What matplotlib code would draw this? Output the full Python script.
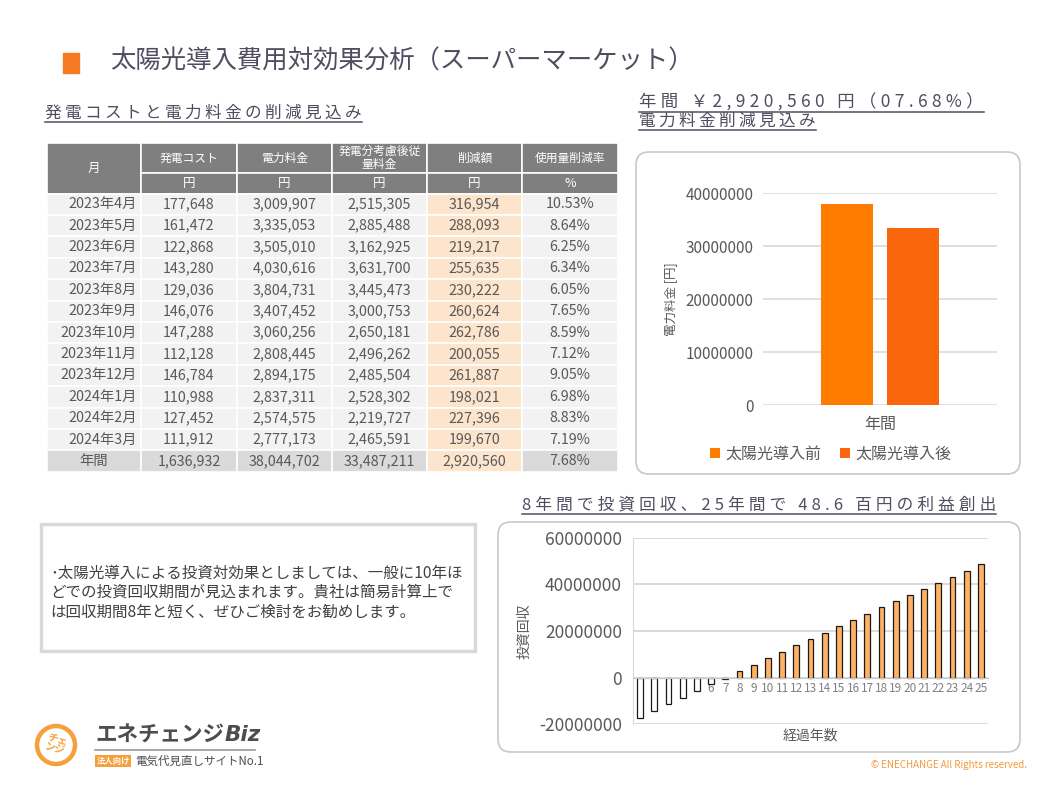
"""Solar installation cost-effectiveness slide (supermarket)."""

import matplotlib

matplotlib.use("Agg")
import matplotlib.pyplot as plt
import numpy as np
from matplotlib.patches import Circle, FancyBboxPatch, Rectangle

FAM = ["Noto Sans CJK JP", "DejaVu Sans"]
plt.rcParams["font.family"] = FAM

W, H = 1058, 794

# ---- data -------------------------------------------------------------
months = ["2023年4月", "2023年5月", "2023年6月", "2023年7月", "2023年8月", "2023年9月",
          "2023年10月", "2023年11月", "2023年12月", "2024年1月", "2024年2月", "2024年3月"]
gen_cost = [177648, 161472, 122868, 143280, 129036, 146076, 147288, 112128, 146784, 110988, 127452, 111912]
elec_fee = [3009907, 3335053, 3505010, 4030616, 3804731, 3407452, 3060256, 2808445, 2894175, 2837311, 2574575, 2777173]
after_fee = [2515305, 2885488, 3162925, 3631700, 3445473, 3000753, 2650181, 2496262, 2485504, 2528302, 2219727, 2465591]
reduction = [316954, 288093, 219217, 255635, 230222, 260624, 262786, 200055, 261887, 198021, 227396, 199670]
cut_rate = [10.53, 8.64, 6.25, 6.34, 6.05, 7.65, 8.59, 7.12, 9.05, 6.98, 8.83, 7.19]
total_label = "年間"
total_row = [1636932, 38044702, 33487211, 2920560]
total_rate = 7.68

col_titles = ["発電コスト", "電力料金", "発電分考慮後従\n量料金", "削減額", "使用量削減率"]
col_units = ["円", "円", "円", "円", "%"]

annual_cat = ["年間"]
annual_before = [38044702]
annual_after = [33487211]

years = list(range(1, 26))
payback = [-17.4e6, -14.3e6, -11.3e6, -8.9e6, -5.7e6, -2.7e6, -0.7e6, 3.0e6, 5.6e6, 8.6e6,
           11.1e6, 14.1e6, 16.7e6, 19.3e6, 22.3e6, 24.9e6, 27.4e6, 30.4e6, 33.0e6, 35.6e6,
           38.1e6, 40.7e6, 43.3e6, 45.9e6, 48.6e6]

note_lines = ["･太陽光導入による投資対効果としましては、一般に10年ほ",
              "どでの投資回収期間が見込まれます。貴社は簡易計算上で",
              "は回収期間8年と短く、ぜひご検討をお勧めします。"]

# ---- colours ----------------------------------------------------------
HEAD = "#4E4E60"
TXT = "#595959"
ORANGE = "#F5A03A"

fig = plt.figure(figsize=(W / 100, H / 100), dpi=100)
bg = fig.add_axes([0, 0, 1, 1])
bg.set_xlim(0, W)
bg.set_ylim(H, 0)
bg.axis("off")
renderer = fig.canvas.get_renderer()


def heading(x, y, text, size, sep="\u2009"):
    t = bg.text(x, y, sep.join(text), fontsize=size, color=HEAD, va="center", ha="left")
    bb = t.get_window_extent(renderer=renderer)
    bg.plot([bb.x0, bb.x1], [y + 9, y + 9], color=HEAD, lw=1.1)


# ---- title ------------------------------------------------------------
bg.add_patch(Rectangle((63, 53), 16, 20, color="#F57A22"))
bg.text(110, 62, "太陽光導入費用対効果分析（スーパーマーケット）", fontsize=18.3, color=HEAD, va="center")

heading(45, 113, "発電コストと電力料金の削減見込み", 12)
heading(639, 103, "年間 ￥2,920,560 円（07.68%）", 12.5, sep="\u2005")
heading(639, 121, "電力料金削減見込み", 12)
heading(522, 505, "8年間で投資回収、25年間で 48.6 百円の利益創出", 12, sep="\u2005")

# ---- table ------------------------------------------------------------
col_edges = [47, 141, 237, 332, 427, 522, 618]
hdr_top, hdr_mid, body_top, row_h = 143, 173, 193.5, 21.4
GRAY_HDR, ROW_BG, TOTAL_BG, PEACH = "#7F7F7F", "#F2F2F2", "#DADADA", "#FDE4CC"

bg.add_patch(Rectangle((col_edges[0], hdr_top), col_edges[1] - col_edges[0], body_top - hdr_top,
                       facecolor=GRAY_HDR, edgecolor="white", lw=1.2))
bg.text((col_edges[0] + col_edges[1]) / 2, (hdr_top + body_top) / 2, "月", color="white",
        fontsize=9, ha="center", va="center")
for c in range(5):
    x0, x1 = col_edges[c + 1], col_edges[c + 2]
    bg.add_patch(Rectangle((x0, hdr_top), x1 - x0, hdr_mid - hdr_top, facecolor=GRAY_HDR,
                           edgecolor="white", lw=1.2))
    bg.add_patch(Rectangle((x0, hdr_mid), x1 - x0, body_top - hdr_mid, facecolor=GRAY_HDR,
                           edgecolor="white", lw=1.2))
    bg.text((x0 + x1) / 2, (hdr_top + hdr_mid) / 2, col_titles[c], color="white", fontsize=8.5,
            ha="center", va="center", linespacing=0.95)
    bg.text((x0 + x1) / 2, (hdr_mid + body_top) / 2, col_units[c], color="white", fontsize=9,
            ha="center", va="center")

rows = []
for i in range(len(months)):
    rows.append([months[i], f"{gen_cost[i]:,}", f"{elec_fee[i]:,}", f"{after_fee[i]:,}",
                 f"{reduction[i]:,}", f"{cut_rate[i]:.2f}%"])
rows.append([total_label] + [f"{v:,}" for v in total_row] + [f"{total_rate:.2f}%"])

for r, cells in enumerate(rows):
    top = body_top + r * row_h
    is_total = r == len(rows) - 1
    for c, val in enumerate(cells):
        x0, x1 = col_edges[c], col_edges[c + 1]
        face = PEACH if c == 4 else (TOTAL_BG if is_total else ROW_BG)
        bg.add_patch(Rectangle((x0, top), x1 - x0, row_h, facecolor=face, edgecolor="white", lw=1.2))
        if c == 0 and not is_total:
            bg.text(x1 - 4, top + row_h / 2, val, color=TXT, fontsize=10.3, ha="right", va="center")
        else:
            bg.text((x0 + x1) / 2, top + row_h / 2, val, color=TXT, fontsize=10.3, ha="center", va="center")

# ---- chart boxes --------------------------------------------------------
for (x0, y0, x1, y1) in [(636, 152, 1020, 474), (498, 522, 1020, 752)]:
    bg.add_patch(FancyBboxPatch((x0, y0), x1 - x0, y1 - y0, boxstyle="round,pad=0,rounding_size=13",
                                facecolor="white", edgecolor="#C8C8C8", lw=1.2))

# ---- annual bar chart --------------------------------------------------
ax1 = fig.add_axes([763 / W, 1 - 405 / H, 234 / W, (405 - 193.5) / H])
ax1.set_facecolor("none")
xpos = np.arange(len(annual_cat))
bw, off = 0.222, 0.141
ax1.bar(xpos - off, annual_before, bw, color="#FF7C00", label="太陽光導入前", zorder=3)
ax1.bar(xpos + off, annual_after, bw, color="#FA660C", label="太陽光導入後", zorder=3)
ax1.set_xlim(-0.5, 0.5)
ax1.set_ylim(0, 40000000)
yt = np.arange(0, 40000001, 10000000)
ax1.set_yticks(yt, labels=[f"{v:.0f}" for v in yt])
ax1.set_xticks(xpos, labels=annual_cat)
ax1.yaxis.grid(True, color="#D9D9D9", lw=1.2)
ax1.set_axisbelow(True)
for s in ax1.spines.values():
    s.set_visible(False)
ax1.tick_params(axis="y", length=0, pad=7, labelsize=11, labelcolor=TXT)
ax1.tick_params(axis="x", length=0, pad=8, labelsize=11.5, labelcolor=TXT)
ax1.set_ylabel("電力料金 [円]", fontsize=9, color=TXT)
ax1.yaxis.set_label_coords(-0.365, 0.5)
ax1.legend(loc="center", bbox_to_anchor=(0.29, -0.232), ncol=2, frameon=False, fontsize=11.5,
           handlelength=0.6, handleheight=0.6, handletextpad=0.35, columnspacing=1.2,
           labelcolor=TXT)

# ---- payback chart ------------------------------------------------------
ax2 = fig.add_axes([633 / W, 1 - 724.3 / H, 355 / W, 186.6 / H])
ax2.set_facecolor("none")
bar_colors = ["white" if v < 0 else "#FFB264" for v in payback]
ax2.bar(years, payback, width=0.42, color=bar_colors, edgecolor="#1A1A1A", linewidth=0.9, zorder=2)
ax2.set_xlim(0.5, 25.5)
ax2.set_ylim(-20000000, 60000000)
yt2 = np.arange(-20000000, 60000001, 20000000)
ax2.set_yticks(yt2, labels=[f"{v:.0f}" for v in yt2])
ax2.set_xticks(years, labels=[str(y) for y in years])
ax2.yaxis.grid(True, color="#D9D9D9", lw=1.4)
ax2.set_axisbelow(True)
ax2.spines["bottom"].set_position(("data", 0))
ax2.spines["bottom"].set_color("#C8C8C8")
ax2.spines["left"].set_color("#D9D9D9")
ax2.spines["top"].set_visible(False)
ax2.spines["right"].set_visible(False)
ax2.tick_params(axis="y", length=0, pad=8, labelsize=12.5, labelcolor=TXT)
ax2.tick_params(axis="x", length=0, pad=3, labelsize=8.5, labelcolor="#808080")
ax2.set_ylabel("投資回収", fontsize=10, color=TXT)
ax2.yaxis.set_label_coords(-0.285, 0.5)
ax2.set_xlabel("経過年数", fontsize=10, color=TXT)
ax2.xaxis.set_label_coords(0.5, -0.025)

# ---- note box ------------------------------------------------------------
bg.add_patch(Rectangle((41, 524), 434, 127, facecolor="white", edgecolor="#D9D9D9", lw=2.5))
for i, line in enumerate(note_lines):
    bg.text(50, 573 + i * 19.5, line, fontsize=11.2, color="#404040", va="center")

# ---- logo / footer ---------------------------------------------------------
bg.add_patch(Circle((56, 745), 19, facecolor="none", edgecolor=ORANGE, lw=3.2))
bg.text(56, 745, "チェ\nンジ", fontsize=7.5, color=ORANGE, ha="center", va="center",
        rotation=-15, weight="bold", linespacing=0.9)
t = bg.text(95, 735, "エネチェンジ", fontsize=15.5, color="#4D4D4D", va="center", weight="bold")
bb = t.get_window_extent(renderer=renderer)
bg.text(bb.x1 + 1, 735, "Biz", fontsize=15.5, color="#4D4D4D", va="center", weight="bold",
        style="italic", family="DejaVu Sans")
bg.plot([95, 255], [750, 750], color="#9A9A9A", lw=1.2)
bg.add_patch(Rectangle((95, 755), 36, 12, facecolor=ORANGE, edgecolor="none"))
bg.text(113, 761, "法人向け", fontsize=6, color="white", ha="center", va="center", weight="bold")
bg.text(135, 761, "電気代見直しサイトNo.1", fontsize=8.3, color="#4D4D4D", va="center")
bg.text(1027, 765, "© ENECHANGE All Rights reserved.", fontsize=7, color="#F39A3C",
        ha="right", va="center")

fig.savefig("out.png", dpi=100)
